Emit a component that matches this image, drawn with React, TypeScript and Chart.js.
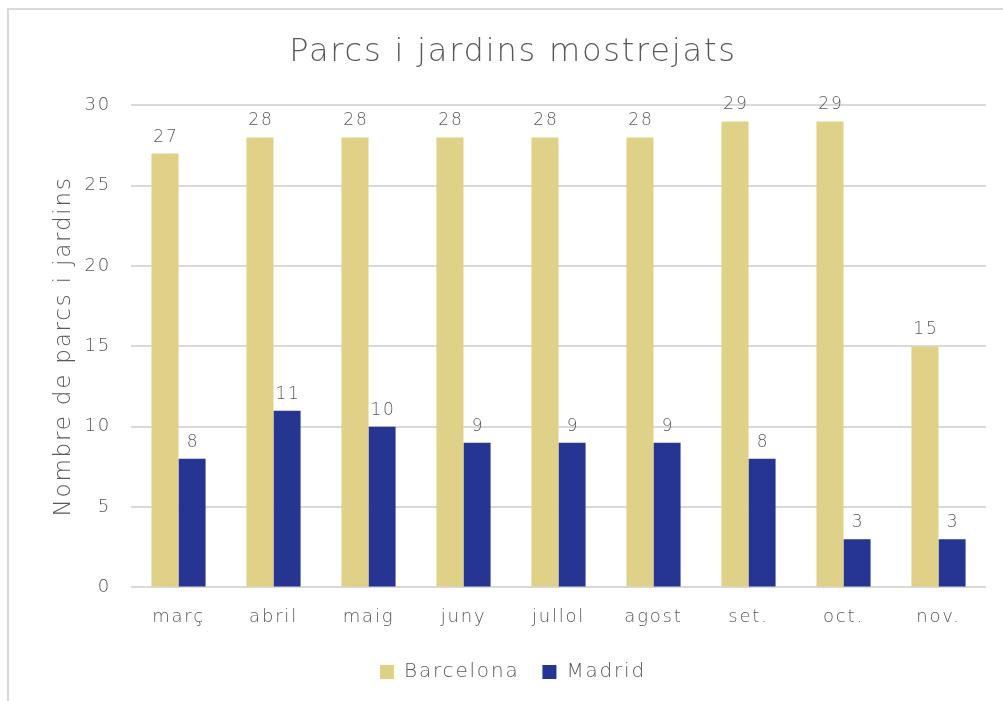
import React, { useEffect, useRef } from "react";
import { Chart, registerables } from "chart.js";

Chart.register(...registerables);

const categories = ["març", "abril", "maig", "juny", "jullol", "agost", "set.", "oct.", "nov."];
const barcelona = [27, 28, 28, 28, 28, 28, 29, 29, 15];
const madrid = [8, 11, 10, 9, 9, 9, 8, 3, 3];
const seriesNames = ["Barcelona", "Madrid"];
const yTicks = [0, 5, 10, 15, 20, 25, 30];

const FONT = "'DejaVu Sans'";
const W = "200" as any;
const TEXT = "#595959";
const SPACING = "1.8px";

const spacingPlugin = {
  id: "spacing",
  beforeUpdate(chart: any) {
    chart.ctx.letterSpacing = SPACING;
  },
  beforeDraw(chart: any) {
    chart.ctx.letterSpacing = SPACING;
  },
};

const valueLabels = {
  id: "valueLabels",
  afterDatasetsDraw(chart: any) {
    const ctx = chart.ctx;
    ctx.save();
    ctx.font = `200 17px ${FONT}`;
    ctx.fillStyle = TEXT;
    ctx.textAlign = "center";
    ctx.textBaseline = "bottom";
    chart.data.datasets.forEach((ds: any, i: number) => {
      const meta = chart.getDatasetMeta(i);
      meta.data.forEach((bar: any, j: number) => {
        ctx.fillText(String(ds.data[j]), bar.x + 1, bar.y - 8);
      });
    });
    ctx.restore();
  },
};

export default function App() {
  const ref = useRef<HTMLCanvasElement>(null);
  useEffect(() => {
    const ctx = ref.current!.getContext("2d") as any;
    ctx.letterSpacing = SPACING;
    const chart = new Chart(ref.current!, {
      type: "bar",
      data: {
        labels: categories,
        datasets: [
          { label: seriesNames[0], data: barcelona, backgroundColor: "#DFD187", categoryPercentage: 0.57, barPercentage: 1 },
          { label: seriesNames[1], data: madrid, backgroundColor: "#253591", categoryPercentage: 0.57, barPercentage: 1 },
        ],
      },
      options: {
        responsive: false,
        animation: false,
        layout: { padding: { left: 40, right: 17, top: 14, bottom: 9 } },
        plugins: {
          title: {
            display: true,
            text: "Parcs i jardins mostrejats",
            color: TEXT,
            font: { family: FONT, size: 32, weight: W },
            padding: { top: 19, bottom: 34 },
          },
          legend: {
            position: "bottom",
            labels: {
              color: TEXT,
              font: { family: FONT, size: 20, weight: W },
              boxWidth: 14,
              boxHeight: 14,
              padding: 23,
            },
          },
          tooltip: { enabled: false },
        },
        scales: {
          x: {
            grid: { display: false },
            border: { display: false },
            ticks: { color: TEXT, font: { family: FONT, size: 18, weight: W }, padding: 11 },
          },
          y: {
            min: 0,
            max: 30,
            afterBuildTicks: (axis: any) => {
              axis.ticks = yTicks.map((v) => ({ value: v }));
            },
            afterFit: (axis: any) => {
              axis.width = 91;
            },
            grid: { color: "#d9d9d9", lineWidth: 2, drawTicks: false },
            border: { display: false },
            ticks: { color: TEXT, font: { family: FONT, size: 18, weight: W }, padding: 20 },
            title: {
              display: true,
              text: "Nombre de parcs i jardins",
              color: TEXT,
              font: { family: FONT, size: 23, weight: W },
              padding: { top: 10, bottom: 0 },
            },
          },
        },
      },
      plugins: [spacingPlugin, valueLabels],
    });
    return () => chart.destroy();
  }, []);
  return (
    <div style={{ position: "fixed", left: 0, top: 0, width: 1003, height: 701, overflow: "hidden", background: "#fff" }}>
      <div
        style={{
          position: "absolute",
          left: 7,
          top: 8,
          width: 1010,
          height: 710,
          borderTop: "2px solid #d9d9d9",
          borderLeft: "2px solid #d9d9d9",
        }}
      />
      <canvas ref={ref} width={1003} height={701} style={{ position: "absolute", left: 0, top: 0 }} />
    </div>
  );
}
